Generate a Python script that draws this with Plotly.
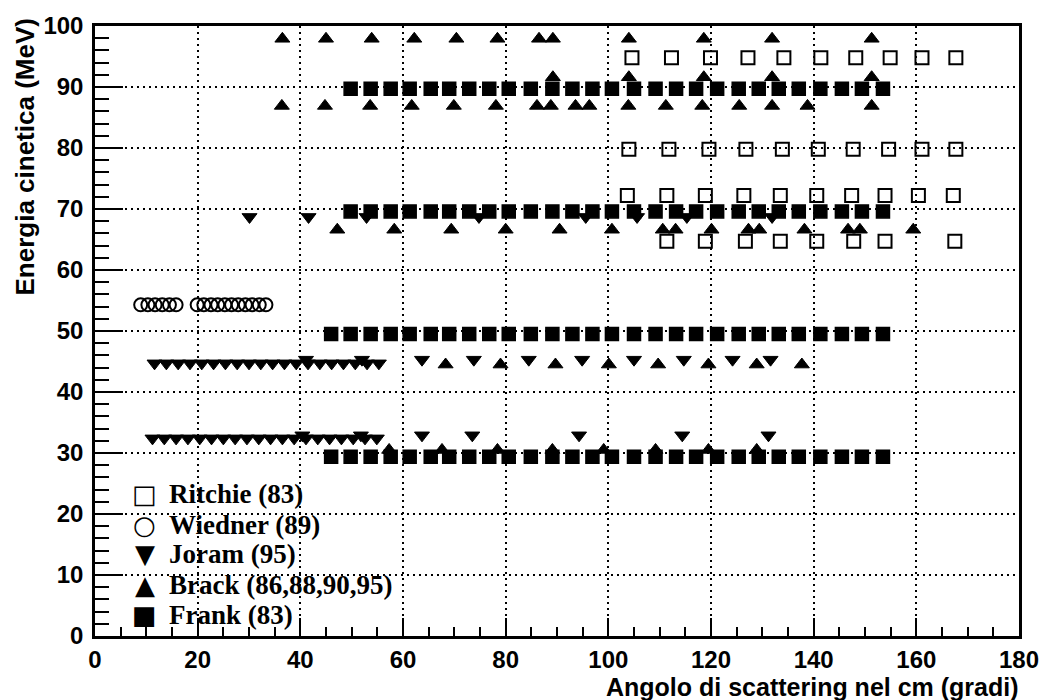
import plotly.graph_objects as go

# ---- Ritchie (83): open squares, angle (deg) per energy row (MeV)
RITCHIE_E = [94.8, 79.8, 72.2, 64.7]
RITCHIE_ROWS = [
    [104.6, 112.3, 119.9, 127.2, 134.2, 141.4, 148.2, 154.9, 161.1, 167.7],
    [104.0, 111.8, 119.6, 126.8, 133.9, 140.9, 147.7, 154.6, 161.1, 167.7],
    [103.7, 111.4, 118.9, 126.4, 133.5, 140.6, 147.4, 153.9, 160.4, 167.2],
    [111.4, 118.9, 126.7, 133.5, 140.6, 147.8, 153.9, 167.5],
]

# ---- Wiedner (89): open circles at 54.3 MeV
WIEDNER_E = 54.3
WIEDNER_ANGLES = [8.9, 10.3, 11.7, 13.1, 14.5, 15.8,
                  19.9, 21.2, 22.6, 23.9, 25.3, 26.6, 27.9, 29.3, 30.6, 32.0, 33.3]

# ---- Joram (95): down triangles
JORAM_45_ANGLES = [11.6, 13.9, 16.2, 18.5, 20.8, 23.1, 25.4, 27.7, 30.0, 32.3,
                   34.6, 36.9, 39.2, 41.5, 43.8, 46.1, 48.4, 50.7, 53.0, 55.3]
JORAM_45_E = 44.7
JORAM_45B_ANGLES = [41.1, 52.0, 63.7, 73.8, 84.5, 94.9, 105.0, 114.7, 124.2, 131.6]
JORAM_45B_E = 45.3
JORAM_33_ANGLES = [11.2, 13.5, 15.8, 18.1, 20.4, 22.7, 25.0, 27.3, 29.6, 31.9,
                   34.2, 36.5, 38.8, 41.1, 43.4, 45.7, 48.0, 50.3, 52.6, 54.9]
JORAM_33_E = 32.4
JORAM_33B_ANGLES = [40.4, 51.8, 63.7, 73.5, 94.3, 114.4, 131.2]
JORAM_33B_E = 32.9
JORAM_69_ANGLES = [30.1, 41.6, 52.9, 74.8, 95.6, 105.6, 115.3, 131.9]
JORAM_69_E = 68.7

# ---- Brack (86,88,90,95): up triangles
BRACK_E = [97.9, 91.6, 86.9, 66.6, 44.5, 30.5]
BRACK_ROWS = [
    [36.5, 45.0, 53.9, 62.2, 70.4, 78.4, 86.5, 89.2, 104.0, 118.6, 131.9, 151.3],
    [89.2, 104.0, 118.6, 131.9, 151.3],
    [36.4, 44.8, 53.6, 61.7, 69.9, 78.1, 86.1, 88.8, 93.6, 96.3, 103.9, 111.2,
     118.3, 125.5, 131.9, 138.8, 151.3],
    [47.2, 58.3, 69.4, 80.0, 90.5, 100.7, 110.6, 113.1, 120.1, 127.3, 129.4,
     138.2, 146.7, 149.0, 159.4],
    [68.3, 79.0, 89.7, 100.1, 109.7, 119.5, 128.9, 137.7],
    [57.3, 67.6, 78.4, 89.1, 99.1, 109.2, 119.5, 128.9],
]

# ---- Frank (83): filled squares
FRANK_E = [89.7, 69.6, 49.5, 29.4]
FRANK_ANGLES = [49.8, 53.7, 57.6, 61.3, 65.4, 69.0, 72.9, 76.8, 80.6, 84.9,
                89.1, 93.0, 96.9, 100.7, 105.0, 109.2, 113.2, 117.1, 121.2,
                125.4, 129.3, 133.2, 137.1, 141.3, 145.5, 149.4, 153.5]
FRANK_LOW_FIRST = [46.0]

# ---- legend entries: glyph and label
LEGEND_GLYPHS = ["\u25a1", "\u25cb", "\u25bc", "\u25b2", "\u25a0"]
LEGEND_LABELS = ["Ritchie (83)", "Wiedner (89)", "Joram (95)",
                 "Brack (86,88,90,95)", "Frank (83)"]


def rows_to_xy(energies, rows):
    xs, ys = [], []
    for e, angles in zip(energies, rows):
        xs += list(angles)
        ys += [e] * len(angles)
    return xs, ys


rx, ry = rows_to_xy(RITCHIE_E, RITCHIE_ROWS)
wx, wy = rows_to_xy([WIEDNER_E], [WIEDNER_ANGLES])
jx, jy = rows_to_xy(
    [JORAM_45_E, JORAM_45B_E, JORAM_33_E, JORAM_33B_E, JORAM_69_E],
    [JORAM_45_ANGLES, JORAM_45B_ANGLES, JORAM_33_ANGLES, JORAM_33B_ANGLES, JORAM_69_ANGLES],
)
bx, by = rows_to_xy(BRACK_E, BRACK_ROWS)
fx, fy = rows_to_xy(
    FRANK_E,
    [FRANK_ANGLES, FRANK_ANGLES, FRANK_LOW_FIRST + FRANK_ANGLES, FRANK_LOW_FIRST + FRANK_ANGLES],
)

INK = "black"
SANS = "Liberation Sans"
SERIF = "Liberation Serif"

fig = go.Figure()
fig.add_trace(go.Scatter(
    x=rx, y=ry, mode="markers", name=LEGEND_LABELS[0],
    marker=dict(symbol="square-open", size=13, color=INK, line=dict(width=2, color=INK)),
))
fig.add_trace(go.Scatter(
    x=wx, y=wy, mode="markers", name=LEGEND_LABELS[1],
    marker=dict(symbol="circle-open", size=13, color=INK, line=dict(width=2, color=INK)),
))
fig.add_trace(go.Scatter(
    x=jx, y=jy, mode="markers", name=LEGEND_LABELS[2],
    marker=dict(symbol="triangle-down", size=13, color=INK, line=dict(width=1, color=INK)),
))
fig.add_trace(go.Scatter(
    x=bx, y=by, mode="markers", name=LEGEND_LABELS[3],
    marker=dict(symbol="triangle-up", size=13, color=INK, line=dict(width=1, color=INK)),
))
fig.add_trace(go.Scatter(
    x=fx, y=fy, mode="markers", name=LEGEND_LABELS[4],
    marker=dict(symbol="square", size=13, color=INK, line=dict(width=1.5, color=INK)),
))

axis_common = dict(
    showline=True, linewidth=2.5, linecolor=INK, mirror=True,
    ticks="inside", tickwidth=2, tickcolor=INK,
    showgrid=True, gridcolor=INK, gridwidth=1.5, griddash="2px,4px",
    zeroline=False,
    tickfont=dict(family=SANS, size=24, color=INK, weight="bold"),
)

fig.update_xaxes(
    range=[0, 180], tick0=0, dtick=20, ticklen=18, ticklabelstandoff=0,
    minor=dict(dtick=5, ticks="inside", ticklen=9, tickwidth=1.5, tickcolor=INK, showgrid=False),
    **axis_common,
)
fig.update_yaxes(
    range=[0, 100], tick0=0, dtick=10, ticklen=28, ticklabelstandoff=4,
    minor=dict(dtick=2, ticks="inside", ticklen=14, tickwidth=1.5, tickcolor=INK, showgrid=False),
    **axis_common,
)

fig.add_annotation(
    text="<b>Angolo di scattering nel cm (gradi)</b>", xref="paper", yref="paper",
    x=1.002, y=-0.0835, xanchor="right", yanchor="middle", showarrow=False,
    font=dict(family=SANS, size=25, color=INK),
)
fig.add_annotation(
    text="<b>Energia cinetica (MeV)</b>", xref="paper", yref="paper", textangle=-90,
    x=-0.076, y=1.016, xanchor="center", yanchor="top", showarrow=False,
    font=dict(family=SANS, size=26, color=INK),
)

# legend block drawn as text rows in the lower-left corner of the frame
LEGEND_ROW_Y = [0.232, 0.182, 0.135, 0.083, 0.034]
for glyph, label, yy in zip(LEGEND_GLYPHS, LEGEND_LABELS, LEGEND_ROW_Y):
    fig.add_annotation(
        text=glyph, xref="paper", yref="paper", x=0.054, y=yy,
        xanchor="center", yanchor="middle", showarrow=False,
        font=dict(family="DejaVu Sans", size=26, color=INK),
    )
    fig.add_annotation(
        text=f"<b>{label}</b>", xref="paper", yref="paper", x=0.0778, y=yy,
        xanchor="left", yanchor="middle", showarrow=False,
        font=dict(family=SERIF, size=27, color=INK),
    )

fig.update_layout(
    width=1051, height=700,
    margin=dict(l=95, r=30, t=20, b=64),
    paper_bgcolor="white", plot_bgcolor="white",
    showlegend=False,
)

fig.write_html("out.html")
